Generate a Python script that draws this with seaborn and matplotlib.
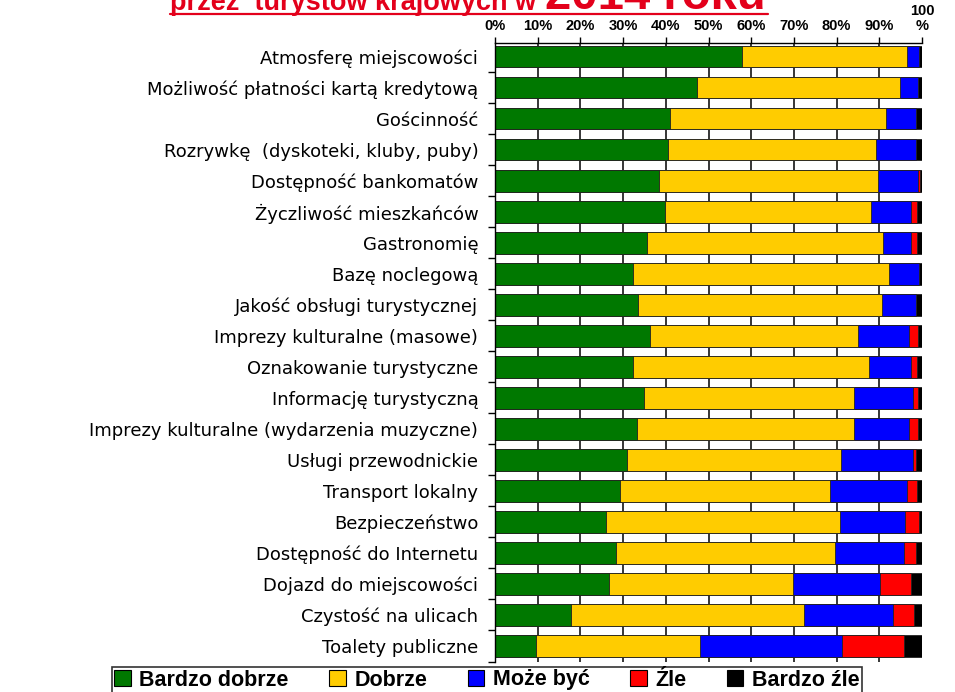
"""Ocena atrakcji turystycznych - wykres skumulowany 100% (seaborn)."""

import numpy as np
import pandas as pd
import matplotlib
matplotlib.use("Agg")
import matplotlib.pyplot as plt
import seaborn as sns
from matplotlib.lines import Line2D
from matplotlib.patches import Patch
from matplotlib.ticker import FixedLocator

sns.set_theme(style="white")
plt.rcParams['font.family'] = ['Liberation Sans', 'DejaVu Sans']
plt.rcParams['text.color'] = 'black'
plt.rcParams['xtick.color'] = 'black'
plt.rcParams['ytick.color'] = 'black'

# Kategorie (od góry do dołu)
categories = [
    "Atmosferę miejscowości",
    "Możliwość płatności kartą kredytową",
    "Gościnność",
    "Rozrywkę  (dyskoteki, kluby, puby)",
    "Dostępność bankomatów",
    "Życzliwość mieszkańców",
    "Gastronomię",
    "Bazę noclegową",
    "Jakość obsługi turystycznej",
    "Imprezy kulturalne (masowe)",
    "Oznakowanie turystyczne",
    "Informację turystyczną",
    "Imprezy kulturalne (wydarzenia muzyczne)",
    "Usługi przewodnickie",
    "Transport lokalny",
    "Bezpieczeństwo",
    "Dostępność do Internetu",
    "Dojazd do miejscowości",
    "Czystość na ulicach",
    "Toalety publiczne",
]

# Udziały ocen w %
bardzo_dobrze = [57.8, 47.4, 41.1, 40.6, 38.3, 39.8, 35.5, 32.4, 33.4, 36.3,
                 32.4, 34.8, 33.2, 30.9, 29.3, 25.9, 28.3, 26.6, 17.7, 9.5]
dobrze = [38.8, 47.4, 50.5, 48.7, 51.5, 48.2, 55.4, 59.8, 57.2, 48.6,
          55.1, 49.3, 50.9, 50.2, 49.2, 54.8, 51.4, 43.3, 54.7, 38.5]
moze_byc = [2.6, 4.3, 7.1, 9.4, 9.3, 9.4, 6.6, 7.0, 8.1, 12.0,
            9.9, 13.9, 12.8, 16.9, 18.0, 15.4, 16.0, 20.3, 20.7, 33.3]
zle = [0.0, 0.0, 0.0, 0.0, 0.4, 1.4, 1.3, 0.0, 0.0, 2.2,
       1.4, 1.1, 2.2, 0.7, 2.3, 3.1, 3.0, 7.2, 5.1, 14.4]
bardzo_zle = [0.8, 0.9, 1.3, 1.3, 0.5, 1.2, 1.2, 0.8, 1.3, 0.9,
              1.2, 0.9, 0.9, 1.3, 1.2, 0.8, 1.3, 2.6, 1.8, 4.3]

series_names = ["Bardzo dobrze", "Dobrze", "Może być", "Źle", "Bardzo źle"]
colors = ["#007800", "#ffcc00", "#0000ff", "#ff0000", "#000000"]
tick_labels = ["0%", "10%", "20%", "30%", "40%", "50%", "60%", "70%", "80%",
               "90%", "100\n%"]

df = pd.DataFrame({
    "kategoria": categories,
    "Bardzo dobrze": bardzo_dobrze,
    "Dobrze": dobrze,
    "Może być": moze_byc,
    "Źle": zle,
    "Bardzo źle": bardzo_zle,
})
cum = df[series_names].cumsum(axis=1)

fig = plt.figure(figsize=(9.55, 6.92), dpi=100)
ax = fig.add_axes([495 / 955, 1 - 661.5 / 692, 427 / 955, (661.5 - 43) / 692])

# Stacked bars: draw cumulative totals from the right-most segment downwards
for name, color in reversed(list(zip(series_names, colors))):
    sns.barplot(x=cum[name], y=df["kategoria"], color=color, saturation=1,
                orient="h", width=0.68, edgecolor="#222222", linewidth=0.6,
                ax=ax, zorder=2)

ax.set_xlim(0, 100)
ax.set_ylim(19.5, -0.45)
ax.set_xlabel("")
ax.set_ylabel("")

# Top percentage axis
ax.xaxis.tick_top()
ax.set_xticks(np.arange(0, 101, 10))
ax.set_xticklabels(tick_labels, fontsize=10.5, fontweight="bold",
                   linespacing=1.15)
ax.tick_params(axis="x", direction="out", length=4, width=1, color="black",
               pad=3, top=True, bottom=False)

ax.grid(axis="x", color="black", linewidth=1.1, zorder=0)
ax.set_axisbelow(True)
ax.xaxis.get_gridlines()[-1].set_visible(False)
ax.xaxis.get_gridlines()[0].set_visible(False)

# Category labels and separator ticks
ax.set_yticks(range(len(categories)))
ax.set_yticklabels(categories, fontsize=13, fontfamily="DejaVu Sans",
                   color="black")
ax.yaxis.set_minor_locator(FixedLocator(np.arange(0.5, len(categories), 1)))
ax.tick_params(axis="y", which="major", length=0, pad=12)
ax.tick_params(axis="y", which="minor", direction="out", length=5, width=1,
               color="black", left=True)

for side in ["right", "bottom"]:
    ax.spines[side].set_visible(False)
for side in ["left", "top"]:
    ax.spines[side].set_color("black")
    ax.spines[side].set_linewidth(1)

# Title (partly cut at the top in the original)
red = "#e3001b"
fig.text(170 / 955, 1 - 10 / 692, "przez  turystów krajowych w",
         fontsize=19.5, fontweight="bold", color=red, ha="left",
         va="baseline")
fig.text(545 / 955, 1 - 9 / 692, "2014 roku",
         fontsize=34, fontweight="bold", color=red, ha="left", va="baseline")
fig.add_artist(Line2D([170 / 955, 768 / 955], [1 - 14 / 692, 1 - 14 / 692],
                      transform=fig.transFigure, color=red, linewidth=1.6))

# Legend
handles = [Patch(facecolor=c, edgecolor="black", linewidth=0.8)
           for c in colors]
leg = fig.legend(handles, series_names, loc="center",
                 bbox_to_anchor=(487 / 955, 1 - 680 / 692), ncol=5,
                 frameon=True, fancybox=False, edgecolor="black",
                 prop={"weight": "bold", "size": 15.5},
                 handlelength=0.75, handleheight=0.75, handletextpad=0.4,
                 columnspacing=1.9, borderpad=0.12, borderaxespad=0)
leg.get_frame().set_linewidth(1.2)

fig.savefig("out.png", dpi=100)
